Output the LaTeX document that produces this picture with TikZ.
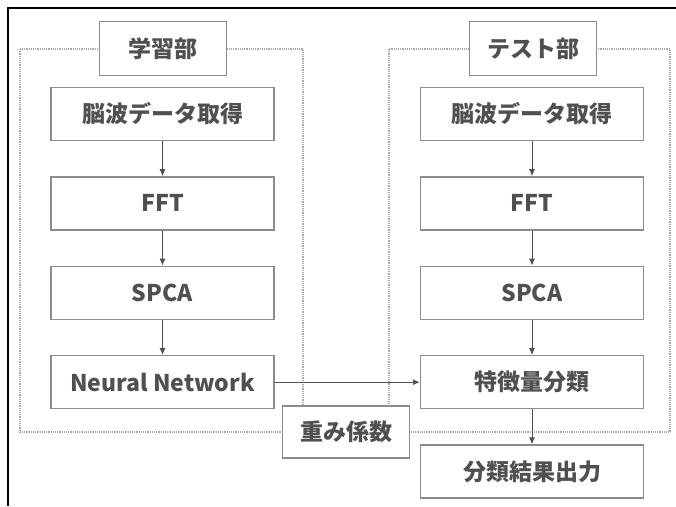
\documentclass[tikz,border=0pt]{standalone}
\usepackage{fontspec}
\setmainfont{Noto Sans CJK JP}
\usetikzlibrary{positioning,arrows.meta}
\definecolor{boxline}{HTML}{8C8C8C}
\definecolor{boxtext}{HTML}{505050}
\tikzset{
	stepbox/.style={draw=boxline,line width=1.4pt,fill=white,text=boxtext,
		minimum width=223pt,minimum height=53pt,inner sep=0pt,
		font=\fontsize{23}{27}\selectfont\bfseries},
	titlebox/.style={stepbox,minimum width=127pt,minimum height=54pt},
	partframe/.style={draw=boxline!75,line width=1.8pt,dash pattern=on 1.2pt off 1pt},
	arr/.style={draw=boxtext,line width=0.9pt,-{Latex[length=7pt,width=6pt]}}
}
\begin{document}
\begin{tikzpicture}[x=1pt,y=-1pt,node distance=35pt]
	\useasboundingbox (0,0) rectangle (676,506);
	\draw[line width=2pt] (8,506) -- (8,8) -- (676,8);
	% dotted frames of the two parts
	\draw[partframe] (20,49) rectangle (303,432);
	\draw[partframe] (389,49) rectangle (670,432);
	% learning part
	\node[titlebox] (ltitle) at (163,48.5) {学習部};
	\node[stepbox] (l1) at (162.5,114) {脳波データ取得};
	\node[stepbox, below=of l1] (l2) {FFT};
	\node[stepbox, below=of l2] (l3) {SPCA};
	\node[stepbox, below=of l3] (l4) {Neural Network};
	% test part
	\node[titlebox] (rtitle) at (533,48.5) {テスト部};
	\node[stepbox] (r1) at (532,114) {脳波データ取得};
	\node[stepbox, below=of r1] (r2) {FFT};
	\node[stepbox, below=of r2] (r3) {SPCA};
	\node[stepbox, below=of r3] (r4) {特徴量分類};
	\node[stepbox, below=of r4] (r5) {分類結果出力};
	\node[titlebox, minimum height=52pt] (w) at (346,432) {重み係数};
	\draw[arr] (l1) -- (l2);
	\draw[arr] (l2) -- (l3);
	\draw[arr] (l3) -- (l4);
	\draw[arr] (r1) -- (r2);
	\draw[arr] (r2) -- (r3);
	\draw[arr] (r3) -- (r4);
	\draw[arr] (r4) -- (r5);
	\draw[arr] (l4) -- (r4);
\end{tikzpicture}
\end{document}
